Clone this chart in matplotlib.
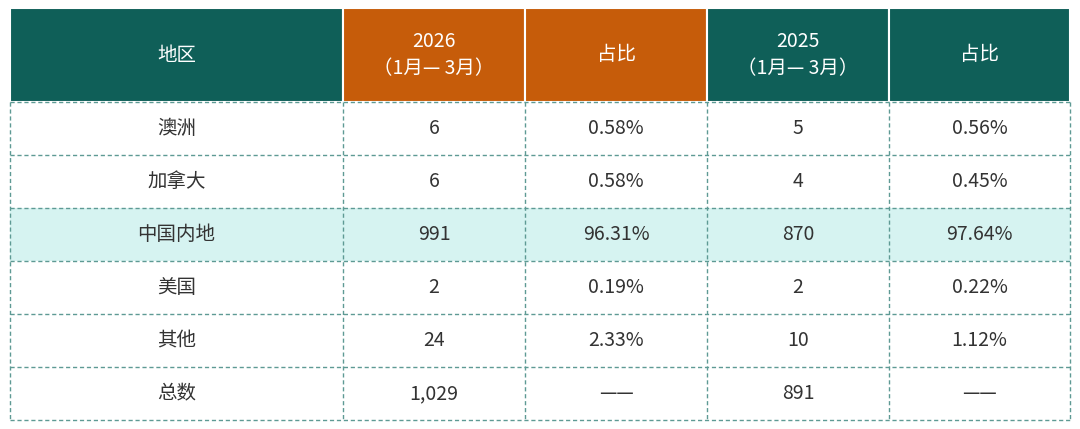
import matplotlib
matplotlib.use("Agg")
import matplotlib.pyplot as plt
from matplotlib.patches import Rectangle

plt.rcParams['font.family'] = ['Noto Sans CJK SC', 'DejaVu Sans']

headers = ["地区", "2026\n（1月— 3月）", "占比", "2025\n（1月— 3月）", "占比"]
regions = ["澳洲", "加拿大", "中国内地", "美国", "其他", "总数"]
v2026 = ["6", "6", "991", "2", "24", "1,029"]
p2026 = ["0.58%", "0.58%", "96.31%", "0.19%", "2.33%", "——"]
v2025 = ["5", "4", "870", "2", "10", "891"]
p2025 = ["0.56%", "0.45%", "97.64%", "0.22%", "1.12%", "——"]
highlight_row = 2

W, H = 1080, 429
fig = plt.figure(figsize=(W/100, H/100), dpi=100)
ax = fig.add_axes([0, 0, 1, 1])
ax.set_xlim(0, W); ax.set_ylim(H, 0); ax.axis('off')

xs = [10, 343, 525, 707, 889, 1070]
ys = [8, 102, 155, 208, 261, 314, 367, 420]
teal = "#0f5f58"; orange = "#c65c0a"; line = "#5e9a94"
hcolors = [teal, orange, orange, teal, teal]

for j, h in enumerate(headers):
    ax.add_patch(Rectangle((xs[j], ys[0]), xs[j+1]-xs[j], ys[1]-ys[0], fc=hcolors[j], ec='white', lw=1.5))
    ax.text((xs[j]+xs[j+1])/2, (ys[0]+ys[1])/2, h, color='white', ha='center', va='center',
            fontsize=14, linespacing=1.4)

cols = [regions, v2026, p2026, v2025, p2025]
for i in range(len(regions)):
    y0, y1 = ys[i+1], ys[i+2]
    if i == highlight_row:
        ax.add_patch(Rectangle((xs[0], y0), xs[-1]-xs[0], y1-y0, fc="#d6f3f1", ec='none'))
    for j in range(5):
        ax.text((xs[j]+xs[j+1])/2, (y0+y1)/2, cols[j][i], color='#333333', ha='center', va='center', fontsize=14)

for y in ys[1:]:
    ax.plot([xs[0], xs[-1]], [y, y], color=line, lw=1, ls=(0, (3, 2)))
for x in xs:
    ax.plot([x, x], [ys[1], ys[-1]], color=line, lw=1, ls=(0, (3, 2)))

fig.savefig("out.png", dpi=100)
